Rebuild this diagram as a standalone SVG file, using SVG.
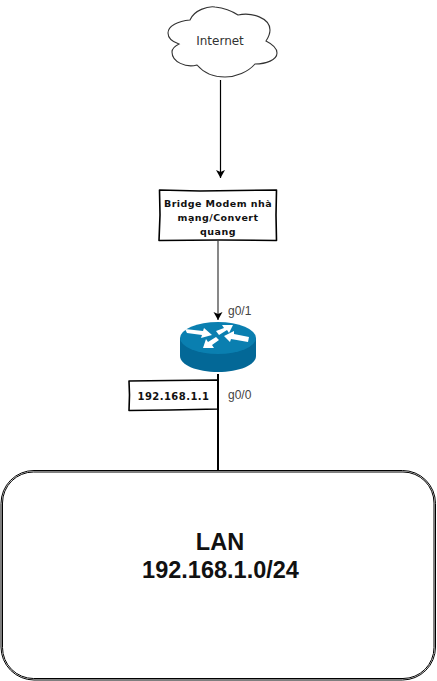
<svg xmlns="http://www.w3.org/2000/svg" width="437" height="681" viewBox="0 0 437 681">
<style>
.sk{fill:#fff;stroke:#000;stroke-width:1.6;stroke-linejoin:round}
.ln{fill:none;stroke:#000}
.hand{font-family:"DejaVu Sans",sans-serif;font-size:9.5px;font-weight:bold;text-anchor:middle;fill:#111;letter-spacing:.45px}
.lab{font-family:"Liberation Sans",Arial,sans-serif;font-size:12px;fill:#444}
.big{font-family:"Liberation Sans",Arial,sans-serif;font-size:23.500px;font-weight:bold;text-anchor:middle;fill:#111}
.arr{fill:#fff}
</style>
<defs>
<marker id="ah" markerUnits="userSpaceOnUse" markerWidth="10" markerHeight="10" refX="8" refY="4.500" orient="auto"><path d="M0 0L8 4.500L0 9L2 4.500Z" fill="#000"/></marker>
</defs>
<rect width="437" height="681" fill="#fff"/>
<g id="internet">
<path d="M168 33C168 26 178 21 190 20C194 10 208 6 215 7C224 8 232 11 238 15C252 12 270 18 270 30C270 35 268 38 266 41C272 44 277 48 277 53C277 60 266 64 255 64C248 72 236 77 225 77C213 77 203 72 197 65C186 68 172 62 172 52C172 49 175 46 179 44C173 42 168 38 168 33Z" fill="#fff" stroke="#333" stroke-width="1.100"/>
<text x="220" y="45" font-family="'DejaVu Sans',sans-serif" font-size="12" text-anchor="middle" fill="#333">Internet</text>
</g>
<g id="bridge">
<path class="sk" d="M159.500 190L200 191L276.500 190L276 215L276.500 240.500L220 240L159 240.500L160 215Z"/>
<text class="hand" x="218" y="207">Bridge Modem nhà</text>
<text class="hand" x="218" y="221">mạng/Convert</text>
<text class="hand" x="218" y="235">quang</text>
</g>
<g id="router">
<path d="M180 338V356C180 365 197 372 218 372C239 372 256 365 256 356V338Z" fill="#036897"/>
<ellipse cx="218" cy="338" rx="38" ry="16" fill="#0a7fb0"/>
<path class="arr" d="M185 329L203 331L204 328L212 335L201 338L202 335L187 333Z"/>
<path class="arr" d="M248 342L231 339L230 342L224 336L234 331L234 334L249 337Z"/>
<path class="arr" d="M233 325L222 325L224 328L216 331L219 335L227 330L229 333Z"/>
<path class="arr" d="M203 348L214 348L212 345L219 340L216 337L208 342L206 339Z"/>
</g>
<g id="gw">
<path class="sk" d="M129 381L170 380.500L218 380L218 409L170 410L129 410.500L129.500 395Z"/>
<text class="hand" x="173.500" y="400" style="font-size:10px">192.168.1.1</text>
</g>
<text class="lab" x="228" y="315">g0/1</text>
<text class="lab" x="228" y="399">g0/0</text>
<g id="lan">
<rect x="1" y="470.500" width="434.500" height="209.500" rx="33" fill="#fff" stroke="#000" stroke-width="1"/>
<rect x="2.500" y="472" width="431.500" height="206.500" rx="31" fill="#fff" stroke="#000" stroke-width="1"/>
<text class="big" x="220" y="550">LAN</text>
<text class="big" x="220.500" y="578">192.168.1.0/24</text>
</g>
<g id="connectors">
<path class="ln" stroke-width="1.200" d="M220.500 80V178" marker-end="url(#ah)"/>
<path class="ln" style="stroke:#555" stroke-width="1.400" d="M218 241V320" marker-end="url(#ah)"/>
<path class="ln" stroke-width="2" d="M218 374V470"/>
</g>
</svg>
